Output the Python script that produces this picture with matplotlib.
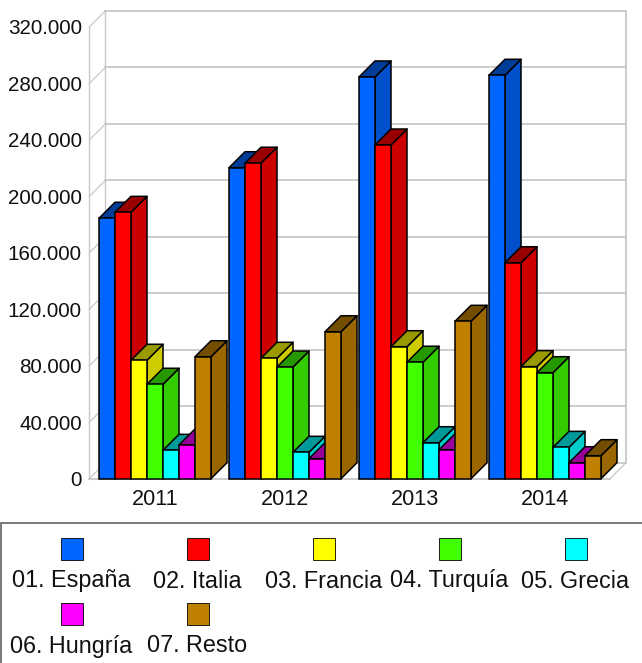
#!/usr/bin/env python3

import matplotlib
matplotlib.use("Agg")
import matplotlib.pyplot as plt
from matplotlib.patches import Polygon, Rectangle

plt.rcParams["font.family"] = ["Liberation Sans", "DejaVu Sans"]

OUTPUT_PATH = "out.png"
FIG_W = 642
FIG_H = 663

years = ["2011", "2012", "2013", "2014"]
series_names = ["01. España", "02. Italia", "03. Francia", "04. Turquía",
                "05. Grecia", "06. Hungría", "07. Resto"]
espana = [184500, 220300, 284600, 285800]
italia = [188700, 223500, 236400, 153000]
francia = [83900, 85300, 93500, 79400]
turquia = [66900, 79100, 82500, 75100]
grecia = [20100, 18700, 25500, 22200]
hungria = [23900, 14200, 20500, 11300]
resto = [86400, 104100, 111500, 16300]
series_values = [espana, italia, francia, turquia, grecia, hungria, resto]

y_ticks = [0, 40000, 80000, 120000, 160000, 200000, 240000, 280000, 320000]
y_labels = ["0", "40.000", "80.000", "120.000", "160.000", "200.000",
            "240.000", "280.000", "320.000"]

front_colors = ["#0066ff", "#ff0000", "#ffff00", "#40ff00", "#00ffff", "#ff00ff", "#bf8000"]
side_colors = ["#0050cc", "#cc0000", "#cccc00", "#33cc00", "#00cccc", "#cc00cc", "#996600"]
top_colors = ["#003d99", "#990000", "#999900", "#269900", "#009999", "#990099", "#734d00"]

GRID = "#c8c8c8"
TICK_SIZE = 14.9
YEAR_SIZE = 15.6
LEGEND_SIZE = 16.8

# plot front plane in pixels
LEFT, RIGHT, TOP, BOTTOM = 90, 610, 27, 478.7
DEPTH_PX = 16
BAR_PX = 16

fig = plt.figure(figsize=(FIG_W / 100, FIG_H / 100), dpi=100)
ax = fig.add_axes([LEFT / FIG_W, 1 - BOTTOM / FIG_H,
                   (RIGHT - LEFT) / FIG_W, (BOTTOM - TOP) / FIG_H])
ax.set_xlim(0, 4)
ax.set_ylim(0, 320000)
for spine in ax.spines.values():
    spine.set_visible(False)

dx = DEPTH_PX / (RIGHT - LEFT) * 4
dy = DEPTH_PX / (BOTTOM - TOP) * 320000
bar_w = BAR_PX / (RIGHT - LEFT) * 4
wall = -0.7 / (RIGHT - LEFT) * 4

# walls and grid
for tick in y_ticks:
    ax.plot([wall, wall + dx], [tick, tick + dy], color=GRID, lw=0.9, clip_on=False, zorder=1)
    ax.plot([wall + dx, 4 + dx], [tick + dy, tick + dy], color=GRID, lw=1.3, clip_on=False, zorder=1)
ax.plot([wall, wall], [0, 320000], color=GRID, lw=1.0, clip_on=False, zorder=1)
ax.plot([wall + dx, wall + dx], [dy, 320000 + dy], color=GRID, lw=1.0, clip_on=False, zorder=1)
ax.plot([4 + dx, 4 + dx], [dy, 320000 + dy], color=GRID, lw=1.3, clip_on=False, zorder=1)
ax.plot([wall, 4], [0, 0], color=GRID, lw=1.3, clip_on=False, zorder=1)
ax.plot([4, 4 + dx], [0, dy], color=GRID, lw=0.9, clip_on=False, zorder=1)

# bars, painted left to right so later ones sit in front
order = 2
for g in range(len(years)):
    start = g + 0.5 - bar_w * len(series_values) / 2
    for s, values in enumerate(series_values):
        x0 = start + s * bar_w
        x1 = x0 + bar_w
        v = values[g]
        side = Polygon([(x1, 0), (x1 + dx, dy), (x1 + dx, v + dy), (x1, v)],
                       facecolor=side_colors[s], edgecolor="black", lw=1.1,
                       joinstyle="round", clip_on=False, zorder=order)
        cap = Polygon([(x0, v), (x0 + dx, v + dy), (x1 + dx, v + dy), (x1, v)],
                      facecolor=top_colors[s], edgecolor="black", lw=1.1,
                      joinstyle="round", clip_on=False, zorder=order)
        ax.add_patch(side)
        ax.add_patch(cap)
        ax.bar(x0, v, width=bar_w, align="edge", color=front_colors[s],
               edgecolor="black", lw=1.1, clip_on=False, zorder=order + 0.5)
        order += 1

ax.set_xticks([g + 0.5 for g in range(len(years))], years)
ax.set_yticks(y_ticks, y_labels)
ax.tick_params(axis="both", length=0, labelcolor="#111111")
ax.tick_params(axis="y", pad=6, labelsize=TICK_SIZE)
ax.tick_params(axis="x", pad=7.5, labelsize=YEAR_SIZE)


def px_x(x):
    return x / FIG_W


def px_y(y):
    return 1 - y / FIG_H


# legend box runs off the right and bottom edge
fig.add_artist(Rectangle((px_x(1), px_y(690)), 700 / FIG_W, 167.5 / FIG_H,
                         transform=fig.transFigure, facecolor="white",
                         edgecolor="#555555", lw=1.1))
for i, name in enumerate(series_names):
    col = i % 5
    row = i // 5
    cx = 71.5 + 126 * col
    swatch_top = 538 + 65 * row
    fig.add_artist(Rectangle((px_x(cx - 11), px_y(swatch_top + 22)), 22 / FIG_W, 22 / FIG_H,
                             transform=fig.transFigure, facecolor=front_colors[i],
                             edgecolor="black", lw=0.6))
    fig.text(px_x(cx), px_y(swatch_top + 43), name, ha="center", va="center",
             fontsize=LEGEND_SIZE, color="#111111")

fig.savefig(OUTPUT_PATH, dpi=100)
